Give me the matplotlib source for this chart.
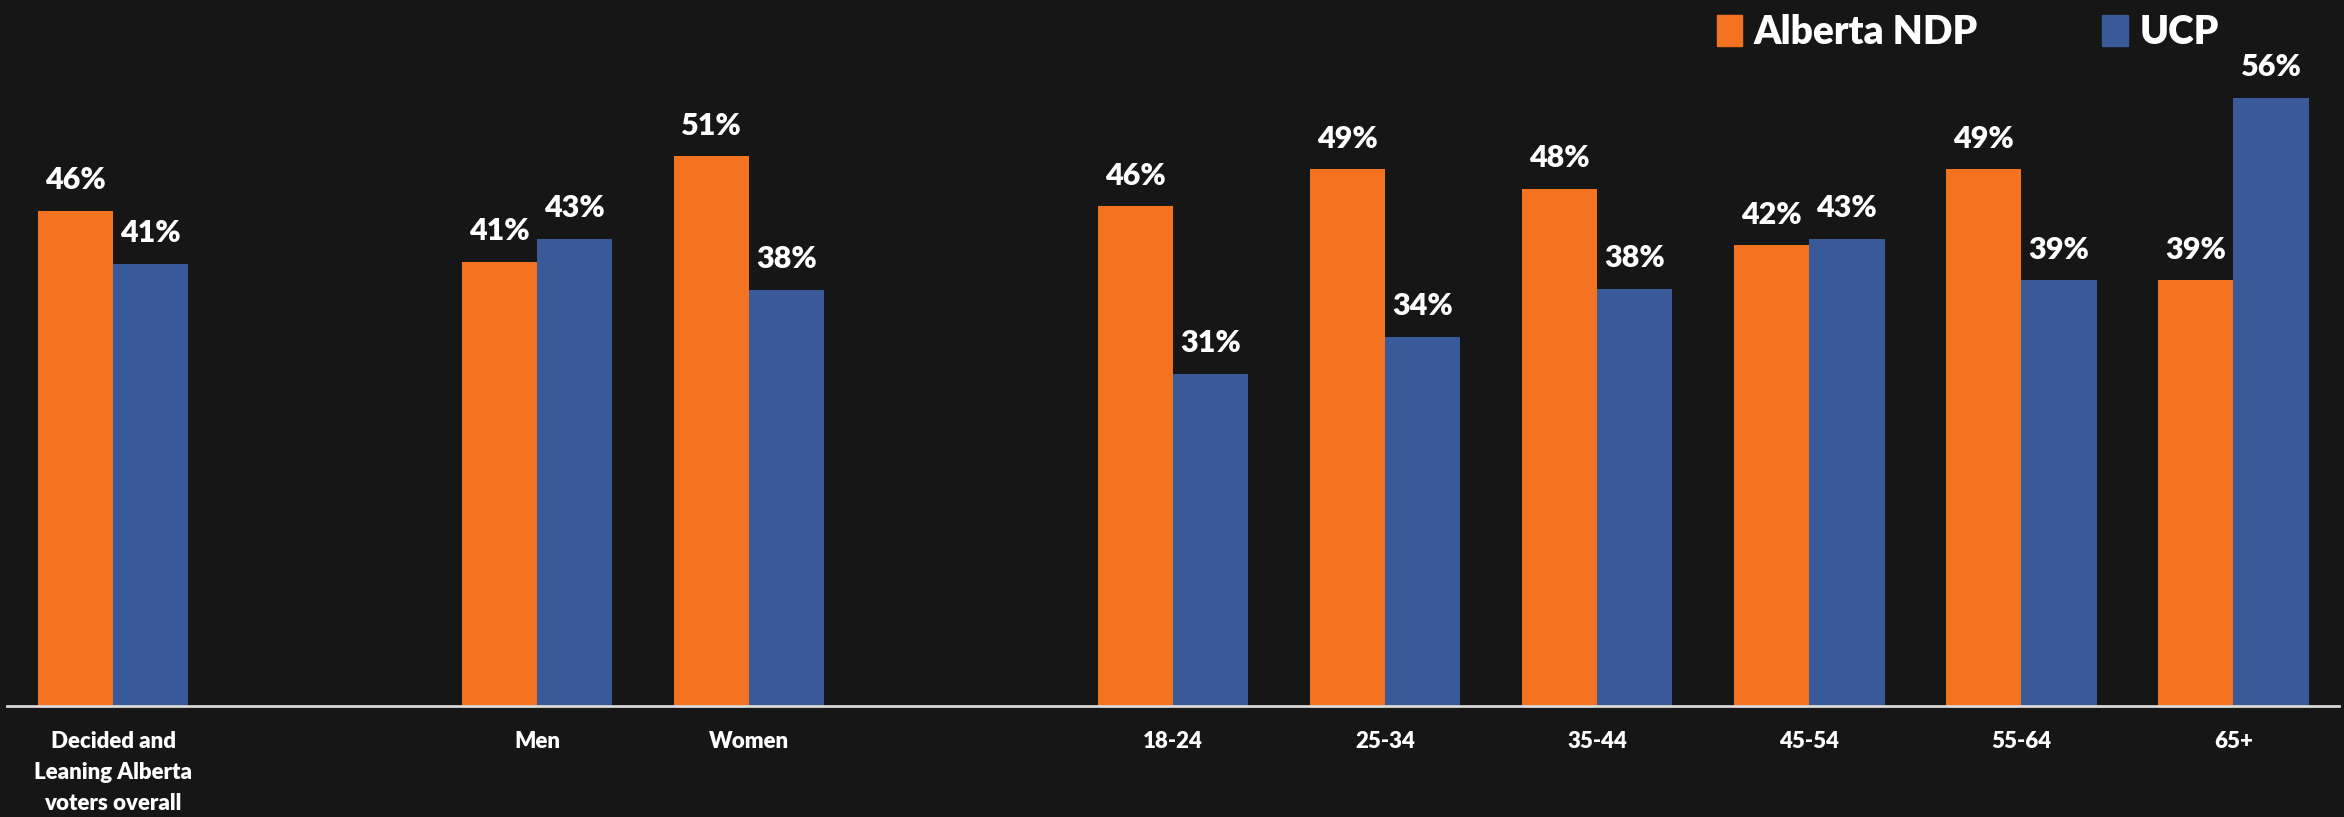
import numpy as np
import matplotlib.pyplot as plt
from matplotlib.patches import Patch

# chart data
categories = ["Decided and\nLeaning Alberta\nvoters overall", "", "Men", "Women", "",
              "18-24", "25-34", "35-44", "45-54", "55-64", "65+"]
ndp = [45.6, None, 40.9, 50.6, None, 46.0, 49.4, 47.6, 42.4, 49.4, 39.2]
ucp = [40.7, None, 43.0, 38.3, None, 30.6, 34.0, 38.4, 43.0, 39.2, 56.0]
series_names = ["Alberta NDP", "UCP"]

bg = "#161616"
orange = "#F47321"
blue = "#395998"
font = "Lato"

fig = plt.figure(figsize=(23.44, 8.17), dpi=100, facecolor=bg)
ax = fig.add_axes([0.003, 0.136, 0.995, 0.864], facecolor=bg)

x = np.arange(len(categories))
w = 0.355
for vals, off, col in [(ndp, -w / 2, orange), (ucp, w / 2, blue)]:
    xs = [xi + off for xi, v in zip(x, vals) if v is not None]
    vs = [v for v in vals if v is not None]
    bars = ax.bar(xs, vs, width=w, color=col, zorder=2)
    for b, v in zip(bars, vs):
        ax.annotate(f"{v:.0f}%", (b.get_x() + b.get_width() / 2, b.get_height()),
                    xytext=(0, 12), textcoords="offset points",
                    ha="center", va="bottom", color="white",
                    fontsize=22, fontweight="heavy", family=font)

ax.set_xlim(-0.5, 10.5)
ax.set_ylim(0, 65)
ax.set_yticks([])
ax.set_xticks(x)
ax.set_xticklabels(categories, color="white", fontsize=16, fontweight="heavy",
                   family=font, linespacing=1.6, va="top")
ax.tick_params(axis="x", length=0, pad=18)
for s in ["top", "right", "left"]:
    ax.spines[s].set_visible(False)
ax.spines["bottom"].set_color("#d9d9d9")
ax.spines["bottom"].set_linewidth(2)

handles = [Patch(color=orange), Patch(color=blue)]
leg = fig.legend(handles, series_names, loc="upper left", bbox_to_anchor=(0.7175, 1.026),
                 ncol=2, frameon=False, handlelength=0.65, handleheight=0.85,
                 handletextpad=0.3, columnspacing=3.2,
                 prop={"family": font, "weight": "heavy", "size": 28})
for t in leg.get_texts():
    t.set_color("white")

fig.savefig("out.png", dpi=100, facecolor=bg)
